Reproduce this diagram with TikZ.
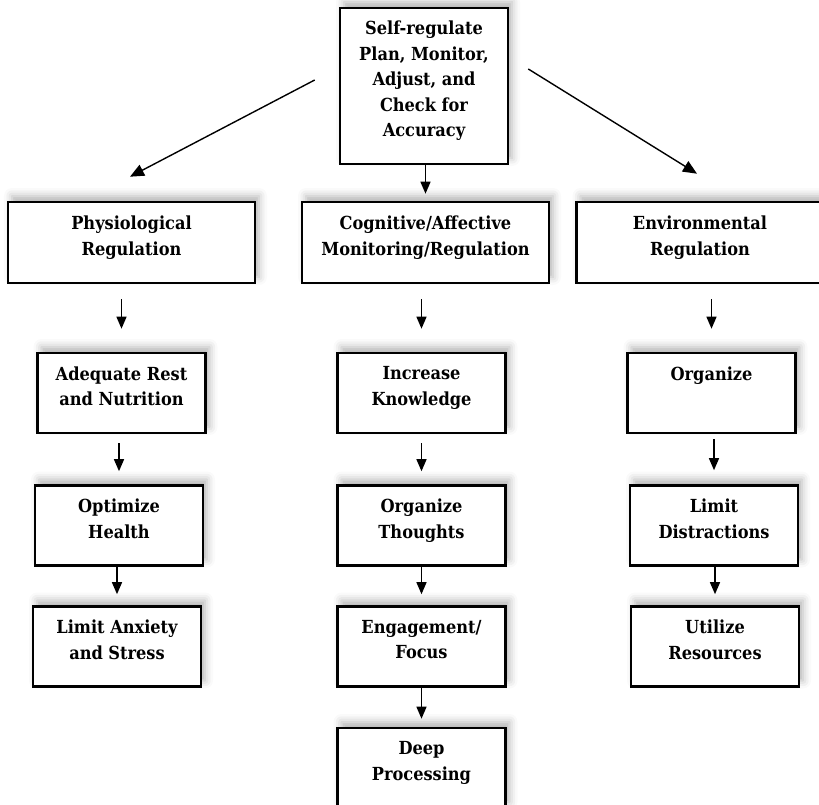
\documentclass[tikz,border=0pt]{standalone}
\usepackage{fontspec}
\setmainfont{DejaVu Serif Condensed}
\usetikzlibrary{arrows.meta,shadows.blur}

\begin{document}
\begin{tikzpicture}
  [x=1pt,y=-1pt,
   every node/.style={draw,line width=2.6pt,fill=white,align=center,inner sep=0pt,
     font=\fontsize{18}{25.5}\selectfont\bfseries,text depth=14pt,
     blur shadow={shadow xshift=4pt,shadow yshift=6pt,shadow blur radius=8pt,
       shadow opacity=30}},
   wide/.style={minimum width=247pt,minimum height=81pt},
   small/.style={minimum width=168pt,minimum height=80pt},
   flow/.style={line width=1.4pt,-{Triangle[width=10pt,length=12pt]}},
   far/.style={line width=1.4pt,-{Triangle[width=12pt,length=14pt]}}]
  \useasboundingbox (0,0) rectangle (819,805);

  \node[minimum width=168pt,minimum height=156pt] (top) at (424,86)
    {Self-regulate\\Plan, Monitor,\\Adjust, and\\Check for\\Accuracy};

  \node[wide] (phys) at (131.5,242.5) {Physiological\\Regulation};
  \node[wide] (cog) at (425.5,242.5) {Cognitive/Affective\\Monitoring/Regulation};
  \node[wide] (env) at (700,242.5) {Environmental\\Regulation};

  \node[small] (rest) at (121.5,393) {Adequate Rest\\and Nutrition};
  \node[small] (know) at (421.5,393) {Increase\\Knowledge};
  \node[small] (org) at (711.5,393) {Organize\\~};

  \node[small] (health) at (119,525.5) {Optimize\\Health};
  \node[small] (thoughts) at (421.5,525.5) {Organize\\Thoughts};
  \node[small] (distr) at (714,525.5) {Limit\\Distractions};

  \node[small] (anx) at (117,646.5) {Limit Anxiety\\and Stress};
  \node[small] (focus) at (421.5,646.5) {Engagement/\\Focus};
  \node[small] (res) at (715,646.5) {Utilize\\Resources};

  \node[small] (deep) at (421.5,768) {Deep\\Processing};

  \draw[far] ([shift={(-24,-6)}]top.west) -- ([shift={(-1.5,-24)}]phys.north);
  \draw[far] ([shift={(19,-17)}]top.east) -- ([shift={(-3,-27)}]env.north);

  \foreach \from/\to/\a/\b in {top/cog/0/7,phys/rest/15/23,cog/know/15/23,
      env/org/15/23,rest/health/9/13,know/thoughts/9/13,org/distr/5/14,
      health/anx/0/11,thoughts/focus/0/11,distr/res/0/11,focus/deep/0/8}
    \draw[flow,shorten <=\a pt,shorten >=\b pt] (\to.north |- \from.south) -- (\to.north);

\end{tikzpicture}
\end{document}
